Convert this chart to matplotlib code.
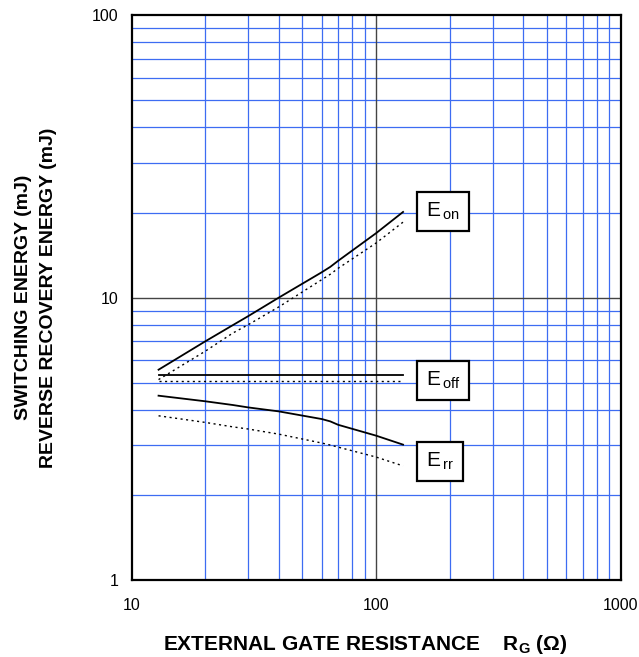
import matplotlib
matplotlib.use('Agg')
import matplotlib.pyplot as plt
from matplotlib.ticker import FixedLocator, NullFormatter

plt.rcParams['font.family'] = ['Liberation Sans', 'DejaVu Sans']
plt.rcParams['mathtext.fontset'] = 'custom'
plt.rcParams['mathtext.rm'] = 'Liberation Sans'
plt.rcParams['mathtext.bf'] = 'Liberation Sans:bold'

# gate resistance (ohm)
rg = [12.9, 20, 26, 30, 40, 60, 65, 70, 100, 129]

# solid curves
eon = [5.56, 7.0, 8.0, 8.6, 10.0, 12.3, 12.85, 13.5, 16.9, 20.1]
eoff = [5.34] * 10
err = [4.50, 4.30, 4.17, 4.09, 3.96, 3.72, 3.65, 3.55, 3.25, 3.02]

# dotted curves
eon_d = [5.13, 6.46, 7.5, 8.02, 9.27, 11.58, 12.1, 12.7, 15.6, 18.5]
eoff_d = [5.07] * 10
err_d = [3.82, 3.62, 3.49, 3.43, 3.29, 3.06, 3.01, 2.96, 2.73, 2.54]

labels = ['on', 'off', 'rr']
label_y = [20.2, 5.1, 2.63]

fig = plt.figure(figsize=(6.39, 6.57), dpi=100)
ax = fig.add_axes([0.2058, 0.1167, 0.7653, 0.8605])
ax.set_xscale('log')
ax.set_yscale('log')
ax.set_xlim(10, 1000)
ax.set_ylim(1, 100)

blue = '#3d6cf2'
xminor = [m * d for d in (10, 100) for m in range(2, 10)]
yminor = [m * d for d in (1, 10) for m in range(2, 10)]
for v in xminor:
    ax.axvline(v, color=blue, lw=0.9, zorder=1)
for v in yminor:
    ax.axhline(v, color=blue, lw=0.9, zorder=1)
ax.axvline(100, color='#444444', lw=1.0, zorder=1)
ax.axhline(10, color='#444444', lw=1.0, zorder=1)

for y in (eon, eoff, err):
    ax.plot(rg, y, color='black', lw=1.3, zorder=3)
for y in (eon_d, eoff_d, err_d):
    ax.plot(rg, y, color='black', lw=1.0, ls=(0, (1.5, 2.5)), zorder=3)

for lab, yy in zip(labels, label_y):
    ax.text(160, yy, r'E$_{\mathregular{\,%s}}$' % lab, fontsize=15,
            ha='left', va='center', zorder=4,
            bbox=dict(boxstyle='square,pad=0.42', fc='white', ec='black', lw=1.6))

ax.xaxis.set_major_locator(FixedLocator([10, 100, 1000]))
ax.yaxis.set_major_locator(FixedLocator([1, 10, 100]))
ax.xaxis.set_minor_formatter(NullFormatter())
ax.yaxis.set_minor_formatter(NullFormatter())
ax.set_xticklabels(['10', '100', '1000'])
ax.set_yticklabels(['1', '10', '100'])
ax.tick_params(which='both', length=0, labelsize=11.5)
ax.tick_params(axis='x', pad=13)
ax.tick_params(axis='y', pad=9.5)

for s in ax.spines.values():
    s.set_linewidth(1.6)
    s.set_zorder(5)

ax.set_xlabel(r'EXTERNAL GATE RESISTANCE    R$_{\mathbf{G}}$ (Ω)',
              fontsize=15, fontweight='bold', labelpad=14)
ax.xaxis.label.set_x(0.4775)
ax.set_ylabel('SWITCHING ENERGY (mJ)\nREVERSE RECOVERY ENERGY (mJ)',
              fontsize=14, fontweight='bold', labelpad=25, linespacing=1.6)

fig.savefig('out.png', dpi=100)
